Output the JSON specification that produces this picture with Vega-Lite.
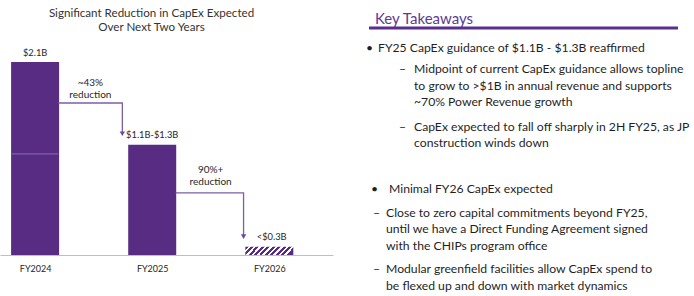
{
  "$schema": "https://vega.github.io/schema/vega-lite/v6.json",
  "padding": {"left": 0, "top": 8, "right": 0, "bottom": 0},
  "background": "white",
  "spacing": 32,
  "config": {"view": {"stroke": null}, "font": "Lato"},
  "datasets": {
    "bars": [
      {"year": 2024, "lo": 0, "hi": 1.1},
      {"year": 2024, "lo": 1.1, "hi": 2.1},
      {"year": 2025, "lo": 0, "hi": 1.2},
      {"year": 2026, "lo": 0, "hi": 0.09}
    ],
    "labels": [
      {"x": 2024, "v": 2.1, "text": "$2.1B"},
      {"x": 2025, "v": 1.2, "text": "$1.1B-$1.3B"},
      {"x": 2026.02, "v": 0.09, "text": "<$0.3B"}
    ],
    "arrows": [
      {"arrow": "a", "step": 1, "x": 2024.198, "y": 1.654},
      {"arrow": "a", "step": 2, "x": 2024.745, "y": 1.654},
      {"arrow": "a", "step": 3, "x": 2024.745, "y": 1.32},
      {"arrow": "b", "step": 1, "x": 2025.201, "y": 0.675},
      {"arrow": "b", "step": 2, "x": 2025.78, "y": 0.675},
      {"arrow": "b", "step": 3, "x": 2025.78, "y": 0.2}
    ],
    "heads": [
      {"x": 2024.745, "y": 1.32},
      {"x": 2025.78, "y": 0.2}
    ],
    "notes": [
      {"x": 2024.472, "y": 1.872, "text": "~43%\nreduction"},
      {"x": 2025.499, "y": 0.925, "text": "90%+\nreduction"}
    ],
    "takeaways": [
      {"kind": "head", "col": 0.462, "line": 0, "text": "Key Takeaways"},
      {"kind": "bullet", "col": -0.231, "line": 1.74, "text": "•"},
      {"kind": "body", "col": 0.692, "line": 1.74, "text": "FY25 CapEx guidance of $1.1B - $1.3B reaffirmed"},
      {"kind": "dash", "col": 2.308, "line": 3.0, "text": "–"},
      {"kind": "body", "col": 3.462, "line": 3.0, "text": "Midpoint of current CapEx guidance allows topline"},
      {"kind": "body", "col": 3.462, "line": 4.0, "text": "to grow to >$1B in annual revenue and supports"},
      {"kind": "body", "col": 3.462, "line": 5.0, "text": "~70% Power Revenue growth"},
      {"kind": "dash", "col": 2.308, "line": 6.45, "text": "–"},
      {"kind": "body", "col": 3.462, "line": 6.45, "text": "CapEx expected to fall off sharply in 2H FY25, as JP"},
      {"kind": "body", "col": 3.462, "line": 7.4, "text": "construction winds down"},
      {"kind": "bullet", "col": 0.154, "line": 10.2, "text": "•"},
      {"kind": "body", "col": 1.538, "line": 10.2, "text": "Minimal FY26 CapEx expected"},
      {"kind": "dash", "col": 0.308, "line": 11.6, "text": "–"},
      {"kind": "body", "col": 1.308, "line": 11.6, "text": "Close to zero capital commitments beyond FY25,"},
      {"kind": "body", "col": 1.308, "line": 12.6, "text": "until we have a Direct Funding Agreement signed"},
      {"kind": "body", "col": 1.308, "line": 13.6, "text": "with the CHIPs program office"},
      {"kind": "dash", "col": 0.308, "line": 15.0, "text": "–"},
      {"kind": "body", "col": 1.308, "line": 15.0, "text": "Modular greenfield facilities allow CapEx spend to"},
      {"kind": "body", "col": 1.308, "line": 16.0, "text": "be flexed up and down with market dynamics"}
    ]
  },
  "hconcat": [
    {
      "width": 333,
      "height": 214,
      "title": {
        "text": ["Significant Reduction in CapEx Expected", "Over Next Two Years"],
        "fontSize": 11.6,
        "font": "Lato",
        "fontWeight": "normal",
        "color": "#333333",
        "anchor": "middle",
        "dx": -15,
        "offset": 7,
        "lineHeight": 14
      },
      "layer": [
        {
          "data": {"name": "bars"},
          "transform": [{"filter": "datum.year < 2026"}],
          "mark": {"type": "bar", "width": 48, "color": "#582c83"},
          "encoding": {
            "x": {
              "field": "year", "type": "quantitative",
              "scale": {"domain": [2023.743, 2026.501], "nice": false, "zero": false},
              "axis": {
                "values": [2024, 2025, 2026],
                "labelExpr": "'FY' + datum.value",
                "title": null, "grid": false, "ticks": false,
                "domainColor": "#bfbfbf", "domainWidth": 1,
                "labelFontSize": 9, "labelColor": "#262626", "labelFont": "Lato",
                "labelPadding": 9
              }
            },
            "y": {
              "field": "lo", "type": "quantitative",
              "scale": {"domain": [0, 2.3286], "nice": false, "zero": false},
              "axis": null
            },
            "y2": {"field": "hi"}
          }
        },
        {
          "data": {"name": "bars"},
          "transform": [{"filter": "datum.year == 2026"}],
          "mark": {
            "type": "bar", "width": 48,
            "color": {
              "gradient": "linear", "x1": 0, "y1": 0, "x2": 1, "y2": 0.167,
              "stops": [
                {"offset": 0, "color": "#582c83"}, {"offset": 0.06, "color": "#582c83"},
                {"offset": 0.06, "color": "#ffffff"}, {"offset": 0.11, "color": "#ffffff"},
                {"offset": 0.11, "color": "#582c83"}, {"offset": 0.17, "color": "#582c83"},
                {"offset": 0.17, "color": "#ffffff"}, {"offset": 0.22, "color": "#ffffff"},
                {"offset": 0.22, "color": "#582c83"}, {"offset": 0.28, "color": "#582c83"},
                {"offset": 0.28, "color": "#ffffff"}, {"offset": 0.33, "color": "#ffffff"},
                {"offset": 0.33, "color": "#582c83"}, {"offset": 0.39, "color": "#582c83"},
                {"offset": 0.39, "color": "#ffffff"}, {"offset": 0.44, "color": "#ffffff"},
                {"offset": 0.44, "color": "#582c83"}, {"offset": 0.5, "color": "#582c83"},
                {"offset": 0.5, "color": "#ffffff"}, {"offset": 0.55, "color": "#ffffff"},
                {"offset": 0.55, "color": "#582c83"}, {"offset": 0.61, "color": "#582c83"},
                {"offset": 0.61, "color": "#ffffff"}, {"offset": 0.66, "color": "#ffffff"},
                {"offset": 0.66, "color": "#582c83"}, {"offset": 0.72, "color": "#582c83"},
                {"offset": 0.72, "color": "#ffffff"}, {"offset": 0.77, "color": "#ffffff"},
                {"offset": 0.77, "color": "#582c83"}, {"offset": 0.83, "color": "#582c83"},
                {"offset": 0.83, "color": "#ffffff"}, {"offset": 0.88, "color": "#ffffff"},
                {"offset": 0.88, "color": "#582c83"}, {"offset": 0.94, "color": "#582c83"},
                {"offset": 0.94, "color": "#ffffff"}, {"offset": 0.99, "color": "#ffffff"},
                {"offset": 0.99, "color": "#582c83"}, {"offset": 1, "color": "#582c83"}
              ]
            }
          },
          "encoding": {
            "x": {"field": "year", "type": "quantitative"},
            "y": {"field": "lo", "type": "quantitative"},
            "y2": {"field": "hi"}
          }
        },
        {
          "data": {"values": [{}]},
          "mark": {"type": "rule", "color": "#8a6cb2", "strokeWidth": 1},
          "encoding": {
            "x": {"datum": 2023.80, "type": "quantitative"},
            "x2": {"datum": 2024.198},
            "y": {"datum": 1.1, "type": "quantitative"}
          }
        },
        {
          "data": {"name": "arrows"},
          "mark": {"type": "line", "color": "#7d5fa8", "strokeWidth": 1.3, "interpolate": "linear"},
          "encoding": {
            "x": {"field": "x", "type": "quantitative"},
            "y": {"field": "y", "type": "quantitative"},
            "detail": {"field": "arrow"},
            "order": {"field": "step"}
          }
        },
        {
          "data": {"name": "heads"},
          "mark": {"type": "point", "shape": "triangle-down", "filled": true, "size": 28, "color": "#6a4a9c", "opacity": 1},
          "encoding": {
            "x": {"field": "x", "type": "quantitative"},
            "y": {"field": "y", "type": "quantitative"}
          }
        },
        {
          "data": {"name": "labels"},
          "mark": {"type": "text", "fontSize": 9.3, "font": "Lato", "color": "#262626", "dy": -9.5, "baseline": "middle"},
          "encoding": {
            "x": {"field": "x", "type": "quantitative"},
            "y": {"field": "v", "type": "quantitative"},
            "text": {"field": "text"}
          }
        },
        {
          "data": {"name": "notes"},
          "mark": {"type": "text", "fontSize": 10, "font": "Lato", "color": "#262626", "baseline": "middle", "lineBreak": "\n", "lineHeight": 12.5},
          "encoding": {
            "x": {"field": "x", "type": "quantitative"},
            "y": {"field": "y", "type": "quantitative"},
            "text": {"field": "text"}
          }
        }
      ]
    },
    {
      "width": 309,
      "height": 256,
      "layer": [
        {
          "data": {"values": [{}]},
          "mark": {"type": "rule", "color": "#5a2e8c", "strokeWidth": 3},
          "encoding": {
            "y": {"datum": 0.54, "type": "quantitative", "scale": {"domain": [1.3174, 16.647], "reverse": true, "nice": false, "zero": false}, "axis": null}
          }
        },
        {
          "data": {"name": "takeaways"},
          "transform": [{"filter": "datum.kind == 'head'"}],
          "mark": {"type": "text", "align": "left", "baseline": "middle", "fontSize": 15, "font": "Lato", "color": "#5c3a93"},
          "encoding": {
            "x": {"field": "col", "type": "quantitative", "scale": {"domain": [0, 23.769], "nice": false, "zero": false}, "axis": null},
            "y": {"field": "line", "type": "quantitative"},
            "text": {"field": "text"}
          }
        },
        {
          "data": {"name": "takeaways"},
          "transform": [{"filter": "datum.kind != 'head'"}],
          "mark": {"type": "text", "align": "left", "baseline": "middle", "fontSize": 12.2, "font": "Lato", "color": "#1f1f1f"},
          "encoding": {
            "x": {"field": "col", "type": "quantitative"},
            "y": {"field": "line", "type": "quantitative"},
            "text": {"field": "text"}
          }
        }
      ]
    }
  ]
}
